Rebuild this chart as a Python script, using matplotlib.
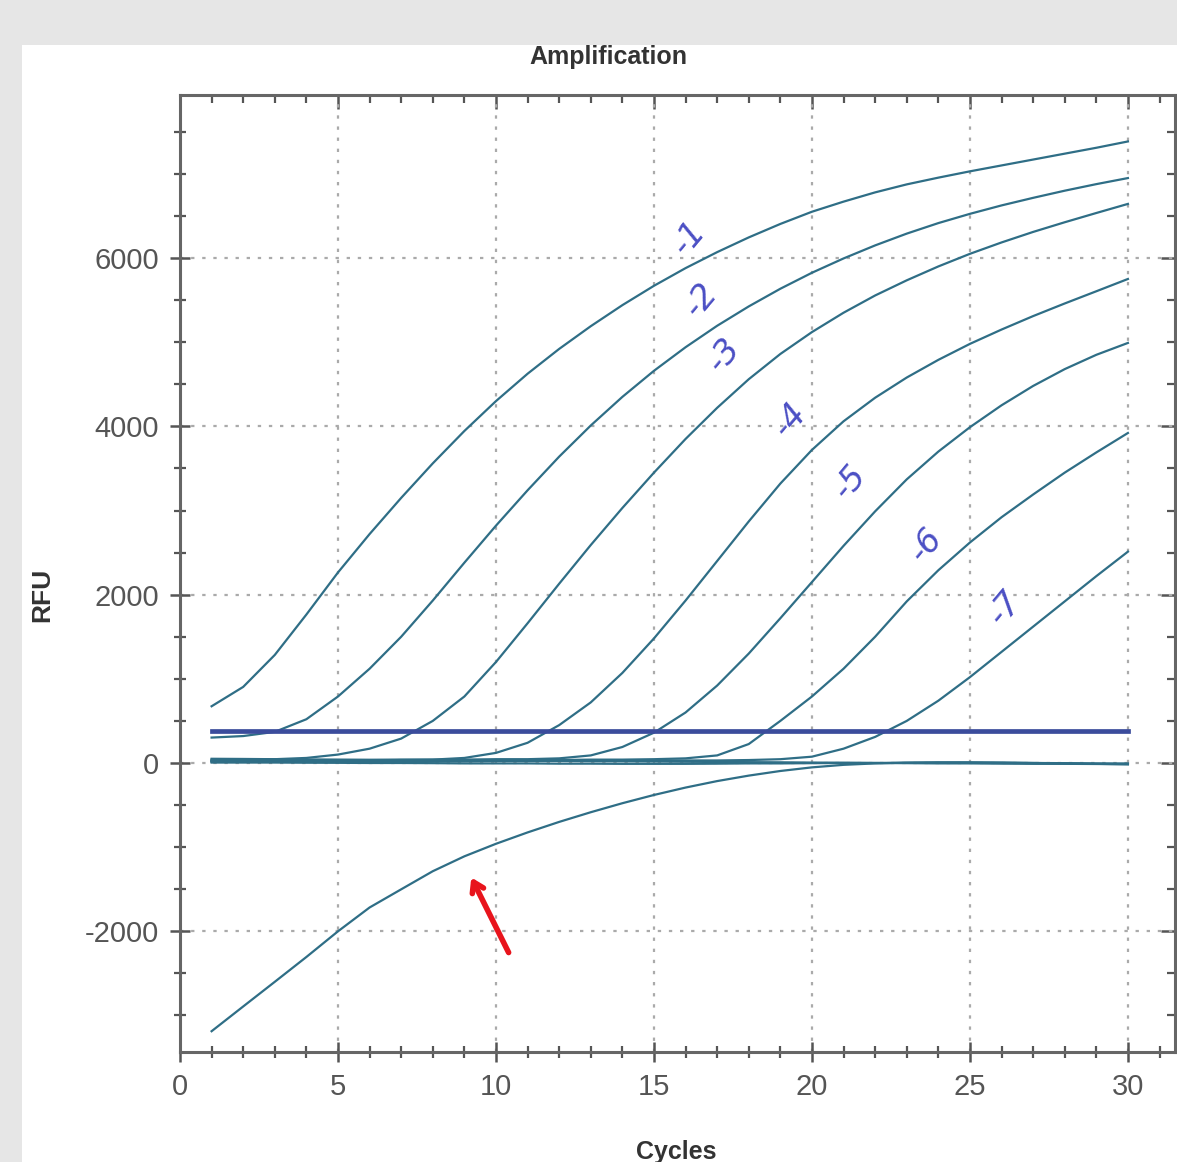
import matplotlib
matplotlib.use("Agg")
import matplotlib.pyplot as plt
from matplotlib import font_manager
from matplotlib.ticker import MultipleLocator
from matplotlib.patches import Rectangle

plt.rcParams["axes.unicode_minus"] = False

# ---------------- data ----------------
cycles = list(range(1, 31))

dil_1 = [674, 904, 1284, 1764, 2264, 2720, 3150, 3560, 3945, 4300, 4625, 4920, 5190, 5440, 5670,
         5880, 6070, 6245, 6405, 6550, 6670, 6780, 6875, 6955, 7030, 7100, 7170, 7240, 7310, 7385]
dil_2 = [302, 320, 370, 520, 790, 1120, 1500, 1930, 2380, 2820, 3240, 3640, 4010, 4350, 4660,
         4940, 5195, 5425, 5635, 5825, 5995, 6150, 6290, 6415, 6525, 6625, 6715, 6800, 6878, 6950]
dil_3 = [40, 40, 45, 60, 100, 170, 290, 500, 790, 1200, 1660, 2130, 2590, 3030, 3450,
         3850, 4220, 4560, 4860, 5120, 5350, 5555, 5735, 5900, 6050, 6185, 6310, 6425, 6535, 6643]
dil_4 = [20, 20, 25, 25, 30, 30, 35, 40, 60, 120, 240, 450, 720, 1070, 1480,
         1930, 2400, 2870, 3320, 3720, 4060, 4340, 4580, 4790, 4980, 5150, 5310, 5460, 5605, 5751]
dil_5 = [30, 30, 30, 35, 35, 35, 40, 40, 40, 45, 45, 55, 90, 190, 360,
         600, 920, 1300, 1720, 2150, 2580, 2990, 3370, 3700, 3990, 4250, 4480, 4680, 4850, 4991]
dil_6 = [25, 25, 25, 30, 30, 30, 30, 30, 35, 35, 35, 35, 40, 40, 45,
         55, 90, 225, 500, 790, 1120, 1500, 1920, 2290, 2620, 2920, 3190, 3450, 3690, 3921]
dil_7 = [15, 15, 15, 15, 20, 20, 20, 20, 20, 25, 25, 25, 25, 25, 30,
         30, 30, 35, 45, 75, 170, 310, 500, 740, 1020, 1320, 1620, 1920, 2220, 2511]
ntc_a = [50, 48, 45, 42, 40, 38, 36, 34, 32, 30, 28, 25, 22, 20, 18,
         15, 12, 10, 8, 5, 3, 0, -2, -5, -5, -8, -10, -10, -12, -15]
ntc_b = [5, 5, 5, 3, 2, 0, 0, -2, -5, -5, -5, -8, -8, -10, -10,
         -10, -8, -5, -5, -2, 0, 0, 2, 5, 5, 3, 0, -2, -5, -5]
negative = [-3187, -2893, -2600, -2305, -2000, -1717, -1501, -1286, -1109, -960, -825, -700, -585, -478, -380,
            -292, -215, -150, -95, -52, -22, -5, 5, 8, 8, 5, 0, -5, -10, -15]
threshold = 380

series = [dil_1, dil_2, dil_3, dil_4, dil_5, dil_6, dil_7, ntc_a, ntc_b, negative]

note_texts = ["-1", "-2", "-3", "-4", "-5", "-6", "-7"]
note_x = [16.1, 16.5, 17.2, 19.3, 21.2, 23.6, 26.1]
note_y = [6240, 5500, 4850, 4075, 3340, 2590, 1840]

x_major_ticks = [0, 5, 10, 15, 20, 25, 30]
y_major_ticks = [-2000, 0, 2000, 4000, 6000]

# ---------------- fonts ----------------
names = {f.name for f in font_manager.fontManager.ttflist}
if "Liberation Sans Narrow" in names:
    tick_font, tick_size, lab_size = "Liberation Sans Narrow", 24, 21
else:
    tick_font, tick_size, lab_size = "Liberation Sans", 21, 18

# ---------------- figure ----------------
W, H = 1177, 1162
fig = plt.figure(figsize=(W / 100, H / 100), dpi=100)
fig.patch.set_facecolor("#e6e6e6")
fig.patches.append(Rectangle((22 / W, 0), 1 - 22 / W, 1 - 45 / H, transform=fig.transFigure,
                             facecolor="white", edgecolor="none", zorder=-5))

ax = fig.add_axes([180 / W, 1 - 1052 / H, (1175 - 180) / W, (1052 - 95) / H])
ax.set_zorder(2)
ax.set_facecolor("white")
ax.set_xlim(0, 31.49)
ax.set_ylim(-3434, 7937)

curve_color = "#2f6e86"
for s in series:
    ax.plot(cycles, s, color=curve_color, lw=1.6, zorder=3, solid_joinstyle="round")

ax.plot([cycles[0], cycles[-1]], [threshold, threshold], color="#3b4c9c", lw=3.4, zorder=4)

for t, x, y in zip(note_texts, note_x, note_y):
    ax.text(x, y, t, color="#4b4fc4", fontsize=24, rotation=50, ha="center", va="center",
            family=["DejaVu Sans"], style="italic", zorder=5)

ax.annotate("", xy=(9.18, -1331), xytext=(10.44, -2282),
            arrowprops=dict(arrowstyle="->,head_length=0.7,head_width=0.45", color="#e8141c", lw=4),
            zorder=6)

# grid
ax.set_xticks(x_major_ticks)
ax.set_yticks(y_major_ticks)
ax.xaxis.set_minor_locator(MultipleLocator(1))
ax.yaxis.set_minor_locator(MultipleLocator(500))
ax.grid(True, which="major", color="#aaaaaa", linestyle=(0, (1.5, 3.5)), lw=1.6)
ax.set_axisbelow(True)

for sp in ax.spines.values():
    sp.set_color("#666666")
    sp.set_linewidth(2.2)

ax.tick_params(which="major", direction="inout", length=14, width=1.8, color="#555555",
               labelcolor="#555555", labelsize=tick_size, pad=8)
ax.tick_params(which="minor", direction="inout", length=8, width=1.6, color="#555555")
for lab in ax.get_xticklabels() + ax.get_yticklabels():
    lab.set_family(tick_font)

sx = ax.secondary_xaxis("top")
sx.set_xticks(x_major_ticks)
sx.xaxis.set_minor_locator(MultipleLocator(1))
sx.tick_params(which="major", direction="in", length=10, width=1.8, color="#555555", labeltop=False)
sx.tick_params(which="minor", direction="in", length=6, width=1.6, color="#555555")
sx.spines["top"].set_visible(False)

sy = ax.secondary_yaxis("right")
sy.set_yticks(y_major_ticks)
sy.yaxis.set_minor_locator(MultipleLocator(500))
sy.tick_params(which="major", direction="in", length=10, width=1.8, color="#555555", labelright=False)
sy.tick_params(which="minor", direction="in", length=6, width=1.6, color="#555555")
sy.spines["right"].set_visible(False)

fig.text(608 / W, 1 - 57 / H, "Amplification", ha="center", va="center", fontsize=lab_size,
         fontweight="bold", color="#333333", family=tick_font)
fig.text(42 / W, 1 - 595 / H, "RFU", ha="center", va="center", rotation=90, fontsize=lab_size + 1,
         fontweight="bold", color="#333333", family=tick_font)
fig.text(676 / W, 1 - 1140 / H, "Cycles", ha="center", va="top", fontsize=lab_size,
         fontweight="bold", color="#333333", family=tick_font)

fig.savefig("out.png", dpi=100, facecolor=fig.get_facecolor())
